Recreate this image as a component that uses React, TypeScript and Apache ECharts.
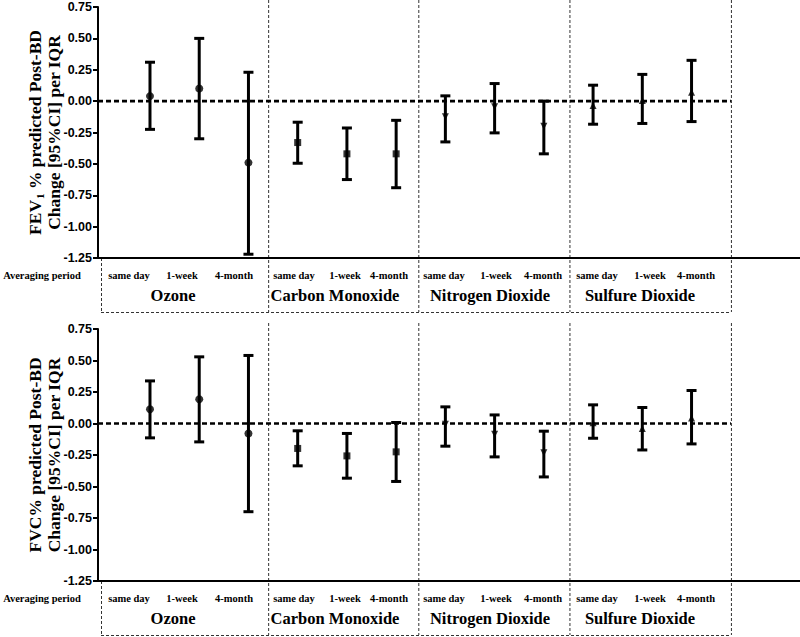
import React, { useEffect, useRef } from "react";
import * as echarts from "echarts";

// ---------- data ----------
const periods = ["same day", "1-week", "4-month"];
const pollutants = ["Ozone", "Carbon Monoxide", "Nitrogen Dioxide", "Sulfure Dioxide"];
const averagingLabel = "Averaging period";

// FEV1 % predicted (post-BD) change per IQR, 12 points: 4 pollutants x 3 periods
const fev1Estimate = [0.04, 0.1, -0.49, -0.33, -0.42, -0.42, -0.125, -0.045, -0.2, -0.035, 0.005, 0.07];
const fev1Lower = [-0.225, -0.3, -1.22, -0.495, -0.625, -0.69, -0.325, -0.253, -0.42, -0.184, -0.178, -0.163];
const fev1Upper = [0.31, 0.5, 0.23, -0.168, -0.214, -0.153, 0.042, 0.14, 0.0, 0.127, 0.213, 0.325];

// FVC % predicted (post-BD) change per IQR
const fvcEstimate = [0.113, 0.193, -0.079, -0.198, -0.257, -0.225, -0.006, -0.085, -0.233, 0.005, -0.04, 0.044];
const fvcLower = [-0.114, -0.146, -0.7, -0.336, -0.434, -0.46, -0.18, -0.265, -0.424, -0.117, -0.21, -0.162];
const fvcUpper = [0.338, 0.529, 0.54, -0.058, -0.079, 0.008, 0.132, 0.068, -0.061, 0.148, 0.127, 0.262];

const yMin = -1.25;
const yMax = 0.75;
const yInterval = 0.25;

// ---------- layout ----------
const XMIN = -1.056;
const XMAX = 13.203;
const boxEdges = [-0.995, 2.4, 5.45, 8.52, 11.8];
const subLabelX = [
  [129, 182, 234],
  [294, 345, 389],
  [444, 496, 543],
  [597, 650, 696],
];
const groupLabelX = [173, 335, 490, 640];
const symbols = ["circle", "rect", "triangle", "triangle"];
const symbolSizes = [8, 7, 7, 7];
const symbolRotates = [0, 0, 180, 0];

const SERIF = "Liberation Serif";
const SANS = "Liberation Sans";

function errorBarItem(params: any, api: any) {
  const x = api.value(0);
  const lo = api.value(1);
  const hi = api.value(2);
  const pLo = api.coord([x, lo]);
  const pHi = api.coord([x, hi]);
  const half = 5;
  const st = { stroke: "#000", lineWidth: 3 };
  return {
    type: "group",
    children: [
      { type: "line", shape: { x1: pLo[0], y1: pLo[1], x2: pHi[0], y2: pHi[1] }, style: st },
      { type: "line", shape: { x1: pLo[0] - half, y1: pLo[1], x2: pLo[0] + half, y2: pLo[1] }, style: st },
      { type: "line", shape: { x1: pHi[0] - half, y1: pHi[1], x2: pHi[0] + half, y2: pHi[1] }, style: st },
    ],
  };
}

function panelSeries(g: number, est: number[], lo: number[], hi: number[]) {
  const out: any[] = [];
  out.push({
    type: "line",
    xAxisIndex: g,
    yAxisIndex: g,
    data: [
      [XMIN, 0],
      [boxEdges[4], 0],
    ],
    symbol: "none",
    silent: true,
    lineStyle: { color: "#000", width: 2.6, type: [5, 3] },
    z: 1,
  });
  out.push({
    type: "custom",
    xAxisIndex: g,
    yAxisIndex: g,
    renderItem: errorBarItem,
    encode: { x: 0, y: [1, 2] },
    data: est.map((_, i) => [i, lo[i], hi[i]]),
    z: 2,
  });
  pollutants.forEach((p, k) => {
    out.push({
      type: "scatter",
      name: p,
      xAxisIndex: g,
      yAxisIndex: g,
      symbol: symbols[k],
      symbolSize: symbolSizes[k],
      symbolRotate: symbolRotates[k],
      itemStyle: { color: "#000" },
      data: periods.map((_, j) => [k * 3 + j, est[k * 3 + j]]),
      z: 3,
    });
  });
  return out;
}

function yAxisCfg(g: number) {
  return {
    type: "value",
    gridIndex: g,
    min: yMin,
    max: yMax,
    interval: yInterval,
    axisLine: { show: true, onZero: false, lineStyle: { color: "#000", width: 2 } },
    axisTick: { show: true, length: 5, lineStyle: { color: "#000", width: 2 } },
    axisLabel: {
      margin: 6,
      color: "#000",
      fontFamily: SANS,
      fontWeight: "bold",
      fontSize: 12.5,
      formatter: (v: number) => v.toFixed(2),
    },
    splitLine: { show: false },
  };
}

function xAxisCfg(g: number) {
  return {
    type: "value",
    gridIndex: g,
    min: XMIN,
    max: XMAX,
    axisLine: { show: true, onZero: false, lineStyle: { color: "#000", width: 2 } },
    axisTick: { show: false },
    axisLabel: { show: false },
    splitLine: { show: false },
  };
}

function txt(x: number, y: number, text: string, size: number, extra: any = {}) {
  return {
    type: "text",
    x,
    y,
    silent: true,
    ...extra,
    style: {
      text,
      fill: "#000",
      fontFamily: SERIF,
      fontWeight: "bold",
      fontSize: size,
      textAlign: "center",
      textVerticalAlign: "middle",
    },
  };
}

export default function App() {
  const ref = useRef<HTMLDivElement>(null);
  useEffect(() => {
    if (!ref.current) return;
    const chart = echarts.init(ref.current, null, { renderer: "svg" });
    chart.setOption({
      animation: false,
      backgroundColor: "#fff",
      grid: [
        { left: 98, top: 7, right: 0, height: 251 },
        { left: 98, top: 329, right: 0, height: 252 },
      ],
      xAxis: [xAxisCfg(0), xAxisCfg(1)],
      yAxis: [yAxisCfg(0), yAxisCfg(1)],
      series: [
        ...panelSeries(0, fev1Estimate, fev1Lower, fev1Upper),
        ...panelSeries(1, fvcEstimate, fvcLower, fvcUpper),
      ],
    });

    const graphics: any[] = [];
    const dash = { stroke: "#333", lineWidth: 1, lineDash: [3, 2] };
    const panels = [
      { g: 0, top: 0, boxBottom: 312, t1: "{a|FEV}{s|1}{a| % predicted Post-BD}" },
      { g: 1, top: 323, boxBottom: 635, t1: "{a|FVC% predicted Post-BD}" },
    ];
    panels.forEach((p) => {
      const yB = chart.convertToPixel({ gridIndex: p.g } as any, [0, yMin])[1];
      const yT = chart.convertToPixel({ gridIndex: p.g } as any, [0, yMax])[1];
      const ex = boxEdges.map((e) => chart.convertToPixel({ gridIndex: p.g } as any, [e, 0])[0]);
      for (let i = 1; i < ex.length; i++) {
        graphics.push({
          type: "line",
          shape: { x1: ex[i] + 0.5, y1: p.top, x2: ex[i] + 0.5, y2: p.boxBottom },
          style: dash,
          silent: true,
        });
      }
      graphics.push({
        type: "line",
        shape: { x1: ex[0] + 0.5, y1: yB, x2: ex[0] + 0.5, y2: p.boxBottom },
        style: dash,
        silent: true,
      });
      graphics.push({
        type: "line",
        shape: { x1: ex[0], y1: p.boxBottom + 0.5, x2: ex[4], y2: p.boxBottom + 0.5 },
        style: dash,
        silent: true,
      });
      graphics.push(txt(42, yB + 17, averagingLabel, 10.5));
      pollutants.forEach((name, k) => {
        periods.forEach((per, j) => {
          graphics.push(txt(subLabelX[k][j], yB + 17, per, 10.5));
        });
        graphics.push(txt(groupLabelX[k], yB + 37, name, 16.5));
      });
      const cy = (yB + yT) / 2;
      graphics.push({
        type: "text",
        x: 35,
        y: cy,
        rotation: Math.PI / 2,
        silent: true,
        style: {
          text: p.t1,
          fill: "#000",
          textAlign: "center",
          textVerticalAlign: "middle",
          rich: {
            a: { fontSize: 17.5, fontWeight: "bold", fontFamily: SERIF, fill: "#000" },
            s: { fontSize: 11, fontWeight: "bold", fontFamily: SERIF, fill: "#000", padding: [10, 0, 0, 1] },
          },
        },
      });
      graphics.push(txt(54, cy, "Change [95%CI] per IQR", 17.5, { rotation: Math.PI / 2 }));
    });
    chart.setOption({ graphic: graphics });
    return () => chart.dispose();
  }, []);
  return (
    <div
      ref={ref}
      style={{ position: "absolute", left: 0, top: 0, width: 800, height: 637, background: "#fff" }}
    />
  );
}
